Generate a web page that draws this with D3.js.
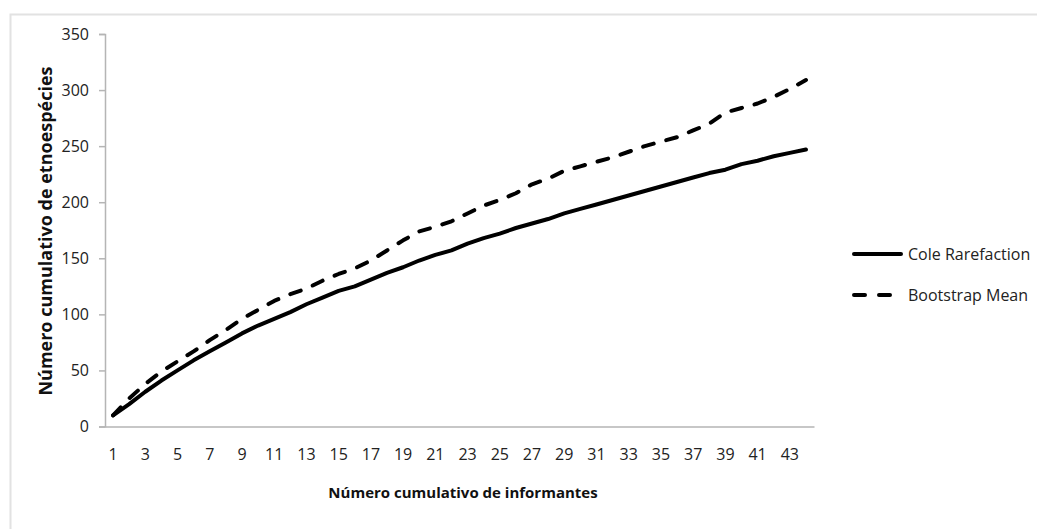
<!DOCTYPE html>
<html>
<head>
<meta charset="utf-8">
<script src="https://cdn.jsdelivr.net/npm/d3@7"></script>
<style>
  body { margin: 0; background: #fff; }
  text { font-family: "Open Sans", sans-serif; }
</style>
</head>
<body>
<div class="chart"></div>
<script>
// informants 1..44
const informants = d3.range(1, 45);
const coleRarefaction = [10, 20, 31, 41, 50, 59, 67, 75, 83, 90, 96, 102, 109, 115, 121, 125, 131, 137, 142, 148,
  153, 157, 163, 168, 172, 177, 181, 185, 190, 194, 198, 202, 206, 210, 214, 218, 222, 226, 229, 234, 237, 241, 244, 247];
const bootstrapMean = [10, 25, 38, 49, 58, 67, 77, 86, 96, 104, 112, 118, 123, 130, 136, 141, 148, 157, 166, 174,
  178, 183, 190, 197, 202, 208, 216, 221, 228, 232, 236, 240, 245, 250, 254, 258, 264, 270, 280, 284, 288, 294, 301, 309];
const yTicks = [0, 50, 100, 150, 200, 250, 300, 350];
const seriesNames = ['Cole Rarefaction', 'Bootstrap Mean'];

const width = 1037;
const height = 529;
const svg = d3.select('.chart')
  .append('svg')
  .attr('width', width)
  .attr('height', height);

//outer frame
svg.append('rect')
  .attr('x', 10.5).attr('y', 14.5)
  .attr('width', 1040).attr('height', 530)
  .attr('fill', 'none')
  .attr('stroke', '#e2e2e2')
  .attr('stroke-width', 2);

const plotLeft = 105, plotRight = 814, plotTop = 34, plotBottom = 426.5;

const x = d3.scaleBand()
  .domain(informants)
  .range([plotLeft, plotRight]);
const y = d3.scaleLinear()
  .domain([0, 350])
  .range([plotBottom, plotTop]);

//y axis
const yAxis = svg.append('g')
  .attr('transform', `translate(${plotLeft},0)`)
  .call(d3.axisLeft(y).tickValues(yTicks).tickSize(6).tickPadding(10));
yAxis.select('.domain').attr('stroke', '#b5b5b5').attr('stroke-width', 1.5);
yAxis.selectAll('.tick line').attr('stroke', '#b5b5b5').attr('stroke-width', 1.5);
yAxis.selectAll('.tick text')
  .attr('font-size', '16px')
  .attr('fill', '#222')
  .style('font-family', '"Open Sans", sans-serif');

//x axis
const xAxis = svg.append('g')
  .attr('transform', `translate(0,${plotBottom})`)
  .call(d3.axisBottom(x).tickValues(informants.filter(d => d % 2 == 1)).tickSize(0).tickPadding(22));
xAxis.select('.domain').attr('stroke', '#b5b5b5').attr('stroke-width', 1.5);
xAxis.selectAll('.tick text')
  .attr('font-size', '16px')
  .attr('fill', '#222')
  .style('font-family', '"Open Sans", sans-serif');

//axis titles
svg.append('text')
  .attr('x', 463).attr('y', 498)
  .attr('text-anchor', 'middle')
  .attr('font-size', '15px')
  .attr('font-weight', 'bold')
  .attr('fill', '#111')
  .text('Número cumulativo de informantes');

svg.append('text')
  .attr('transform', 'translate(52,231) rotate(-90)')
  .attr('text-anchor', 'middle')
  .attr('font-size', '18px')
  .attr('font-weight', 'bold')
  .attr('fill', '#111')
  .text('Número cumulativo de etnoespécies');

//lines
const line = d3.line()
  .x((d, i) => x(informants[i]) + x.bandwidth() / 2)
  .y(d => y(d));

svg.append('path')
  .datum(coleRarefaction)
  .attr('d', line)
  .attr('fill', 'none')
  .attr('stroke', '#000')
  .attr('stroke-width', 4)
  .attr('stroke-linecap', 'round')
  .attr('stroke-linejoin', 'round');

svg.append('path')
  .datum(bootstrapMean)
  .attr('d', line)
  .attr('fill', 'none')
  .attr('stroke', '#000')
  .attr('stroke-width', 4)
  .attr('stroke-dasharray', '11,13')
  .attr('stroke-linecap', 'round')
  .attr('stroke-linejoin', 'round');

//legend
const legend = svg.selectAll('g.legend')
  .data(seriesNames)
  .enter()
  .append('g')
  .attr('class', 'legend')
  .attr('transform', (d, i) => `translate(854,${254 + i * 41})`);

legend.append('line')
  .attr('x1', 0).attr('x2', 47)
  .attr('y1', 0).attr('y2', 0)
  .attr('stroke', '#000')
  .attr('stroke-width', 4)
  .attr('stroke-linecap', 'round')
  .attr('stroke-dasharray', (d, i) => i == 1 ? '11,14' : null);

legend.append('text')
  .attr('x', 54).attr('y', 6)
  .attr('font-size', '16px')
  .attr('fill', '#222')
  .text(d => d);
</script>
</body>
</html>
